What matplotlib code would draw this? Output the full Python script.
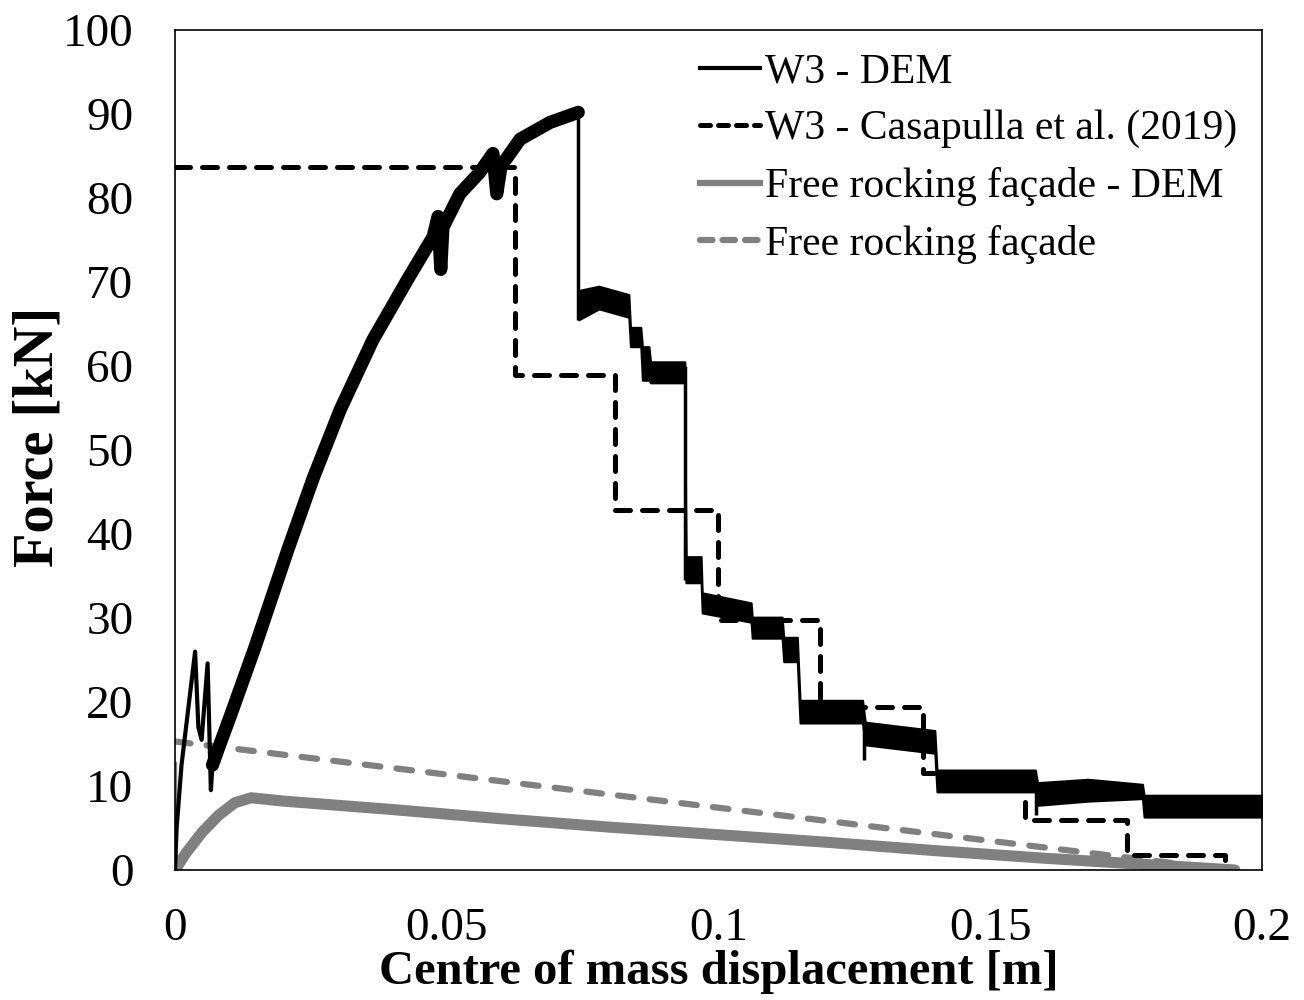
import matplotlib
matplotlib.use("Agg")
import matplotlib.pyplot as plt

plt.rcParams['font.family'] = ['Liberation Serif', 'DejaVu Serif']

# W3 - DEM, first spikes near the origin
dem_start_x = [0, 0.0003, 0.0012, 0.0037, 0.0043, 0.0049, 0.0060, 0.0066, 0.0069]
dem_start_y = [0, 5.0, 12.5, 26.0, 17.0, 15.5, 24.6, 9.5, 12.5]

# W3 - DEM, rising branch up to the peak
dem_rise_x = [0.0069, 0.0080, 0.0100, 0.0147, 0.0208, 0.0254, 0.0304, 0.0364, 0.0427,
              0.0475, 0.0484, 0.0489, 0.0493, 0.0524, 0.0560, 0.0585, 0.0592, 0.0600,
              0.0635, 0.0690, 0.0742]
dem_rise_y = [12.5, 14.5, 18.0, 26.5, 38.2, 46.6, 54.8, 63.1, 70.2,
              75.4, 77.8, 71.5, 76.5, 80.5, 83.0, 85.3, 80.5, 83.8,
              87.0, 89.0, 90.2]

# W3 - DEM, softening branch (oscillation band)
band_x  = [0.0743, 0.0780, 0.0835, 0.0838, 0.0857, 0.0860, 0.0872, 0.0875, 0.0938,
           0.0940, 0.0968, 0.0970, 0.1060, 0.1062, 0.1117, 0.1120, 0.1145, 0.1150,
           0.1265, 0.1270, 0.1398, 0.1402, 0.1583, 0.1587, 0.1680, 0.1780, 0.1783, 0.2000]
band_lo = [65.5, 66.8, 65.8, 62.3, 62.3, 58.3, 58.3, 58.0, 58.0,
           34.2, 34.2, 30.6, 29.5, 27.6, 27.6, 24.8, 24.8, 17.5,
           17.5, 14.9, 13.9, 9.3, 9.3, 7.7, 8.2, 8.5, 6.3, 6.3]
band_hi = [69.0, 69.5, 68.5, 64.6, 64.6, 62.3, 62.3, 60.5, 60.5,
           37.3, 37.3, 33.0, 31.8, 30.1, 30.1, 27.7, 27.7, 20.2,
           20.2, 17.6, 16.6, 11.9, 11.9, 10.4, 10.8, 10.2, 8.9, 8.9]

# single downward spikes in the band
dip_x = [0.0742, 0.0938, 0.1268, 0.1585]
dip_top = [90.2, 60.0, 17.5, 9.3]
dip_bot = [65.5, 34.5, 13.1, 6.5]

# W3 - Casapulla et al. (2019), stepwise
cas_x = [0, 0.0626, 0.0810, 0.0999, 0.1187, 0.1376, 0.1564, 0.1752, 0.1932]
cas_y = [83.7, 58.9, 42.9, 29.8, 19.4, 11.6, 6.0, 1.8, 0]

# Free rocking facade - DEM
fr_x = [0, 0.002, 0.005, 0.008, 0.011, 0.014, 0.020, 0.040, 0.060, 0.080,
        0.100, 0.120, 0.140, 0.160, 0.180, 0.195]
fr_y = [0, 2.0, 4.5, 6.5, 8.0, 8.6, 8.2, 7.2, 6.1, 5.1,
        4.2, 3.3, 2.3, 1.4, 0.6, 0]

# Free rocking facade (analytical)
rock_x = [0, 0.194]
rock_y = [15.3, 0]

black = '#000000'
grey = '#808080'

fig = plt.figure(figsize=(13.04, 10), dpi=100)
ax = fig.add_axes([0.1342, 0.13, 0.8336, 0.84])

# grey curves first
ax.plot(fr_x, fr_y, color=grey, lw=8, solid_capstyle='round', solid_joinstyle='round')
ax.plot([0, 0], [0, 12.7], color=grey, lw=2.5)
ax.plot(rock_x, rock_y, color=grey, lw=4.5, dashes=(2.5, 2.6), dash_capstyle='round')

# W3 DEM
ax.plot(dem_start_x, dem_start_y, color=black, lw=3, solid_joinstyle='round')
ax.plot(dem_rise_x, dem_rise_y, color=black, lw=9.5, solid_capstyle='round', solid_joinstyle='round')
ax.fill_between(band_x, band_lo, band_hi, color=black, lw=1.5, edgecolor=black)
ax.vlines(dip_x, dip_bot, dip_top, color=black, lw=2.5)

ax.plot(cas_x, cas_y, color=black, lw=3.6, drawstyle='steps-post',
        dashes=(3, 2.4), dash_capstyle='round')

# legend handles
h1, = ax.plot([], [], color=black, lw=3, label='W3 - DEM')
h2, = ax.plot([], [], color=black, lw=3.6, dashes=(2.0, 1.6), dash_capstyle='round',
              label='W3 - Casapulla et al. (2019)')
h3, = ax.plot([], [], color=grey, lw=4.5, label='Free rocking façade - DEM')
h4, = ax.plot([], [], color=grey, lw=4.5, dashes=(2.0, 1.6), dash_capstyle='round',
              label='Free rocking façade')
ax.legend(handles=[h1, h2, h3, h4], loc='upper left', bbox_to_anchor=(0.483, 0.973),
          frameon=False, fontsize=30, handlelength=1.45, handletextpad=0.1,
          labelspacing=0.45, borderaxespad=0, borderpad=0)

ax.set_xlim(0, 0.2)
ax.set_ylim(0, 100)
ax.set_xticks([0, 0.05, 0.1, 0.15, 0.2])
ax.set_xticklabels(['0', '0.05', '0.1', '0.15', '0.2'])
ax.set_yticks(range(0, 101, 10))
ax.tick_params(length=0, labelsize=34)
ax.tick_params(axis='x', pad=27)
ax.tick_params(axis='y', pad=30)
for s in ax.spines.values():
    s.set_linewidth(1.2)

ax.set_xlabel('Centre of mass displacement [m]', fontsize=35, fontweight='bold', labelpad=0)
ax.set_ylabel('Force [kN]', fontsize=40.5, fontweight='bold')
ax.yaxis.set_label_coords(-0.1016, 0.515)

fig.savefig('out.png', dpi=100)
